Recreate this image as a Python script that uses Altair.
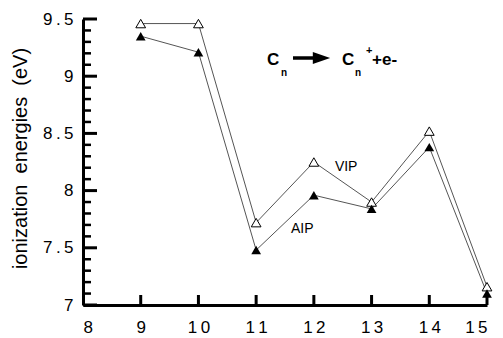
import altair as alt
import pandas as pd

# Carbon cluster size n and ionization energies (eV)
n_atoms = [9, 10, 11, 12, 13, 14, 15]
vip = [9.46, 9.46, 7.72, 8.25, 7.90, 8.52, 7.16]   # vertical ionization potential
aip = [9.35, 9.21, 7.48, 7.96, 7.84, 8.38, 7.10]   # adiabatic ionization potential

x_ticks = [8, 9, 10, 11, 12, 13, 14, 15]
y_major = [7.0, 7.5, 8.0, 8.5, 9.0, 9.5]
y_minor = [7.1, 7.2, 7.3, 7.4, 7.6, 7.7, 7.8, 7.9, 8.1, 8.2, 8.3, 8.4,
           8.6, 8.7, 8.8, 8.9, 9.1, 9.2, 9.3, 9.4]

W, H = 404, 286
FONT = "Liberation Sans"
# tick labels are set loosely, with a thin space between characters
SPACED = "join(split(format(datum.value, '~g'), ''), '\u2009')"
# double non-breaking spaces so the gaps survive SVG whitespace collapsing
Y_TITLE = "ionization\u00a0\u00a0energies\u00a0\u00a0(eV)"

df = pd.DataFrame({"n": n_atoms * 2,
                   "ie": vip + aip,
                   "kind": ["VIP"] * len(vip) + ["AIP"] * len(aip)})

xs = alt.Scale(domain=[8, 15], nice=False, zero=False)
ys = alt.Scale(domain=[7, 9.5], nice=False, zero=False)

x_axis = alt.Axis(values=x_ticks, ticks=False, grid=False, domainWidth=3,
                  domainColor="black", labelFont=FONT, labelFontSize=17,
                  labelColor="black", labelPadding=14, labelExpr=SPACED,
                  title=None)
y_axis = alt.Axis(values=y_major, ticks=False, grid=False, domainWidth=3,
                  domainColor="black", labelFont=FONT, labelFontSize=17,
                  labelColor="black", labelPadding=10, labelExpr=SPACED,
                  title=Y_TITLE, titleFont=FONT,
                  titleFontSize=20, titleFontWeight="normal", titleColor="black",
                  titleAngle=270, titleX=-63, titleY=139,
                  titleAlign="center", titleBaseline="middle")

base = alt.Chart(df)

lines = base.mark_line(color="#555555", strokeWidth=1).encode(
    x=alt.X("n:Q", scale=xs, axis=x_axis),
    y=alt.Y("ie:Q", scale=ys, axis=y_axis),
    detail="kind:N",
)

vip_pts = alt.Chart(df[df.kind == "VIP"]).mark_point(
    shape="triangle-up", size=95, filled=True, fill="white",
    stroke="black", strokeWidth=1, opacity=1
).encode(x=alt.X("n:Q", scale=xs), y=alt.Y("ie:Q", scale=ys))

aip_pts = alt.Chart(df[df.kind == "AIP"]).mark_point(
    shape="triangle-up", size=95, filled=True, color="black", opacity=1
).encode(x=alt.X("n:Q", scale=xs), y=alt.Y("ie:Q", scale=ys))

# inward tick marks
ymaj = alt.Chart(pd.DataFrame({"v": y_major})).mark_rule(
    color="black", strokeWidth=3).encode(
    y=alt.Y("v:Q", scale=ys), x=alt.value(0), x2=alt.value(14))
ymin = alt.Chart(pd.DataFrame({"v": y_minor})).mark_rule(
    color="black", strokeWidth=2.5).encode(
    y=alt.Y("v:Q", scale=ys), x=alt.value(0), x2=alt.value(8))
xmaj = alt.Chart(pd.DataFrame({"v": x_ticks[1:]})).mark_rule(
    color="black", strokeWidth=3).encode(
    x=alt.X("v:Q", scale=xs), y=alt.value(H), y2=alt.value(H - 10))

# series labels
lab = alt.Chart(pd.DataFrame({"n": [12.56, 11.80], "ie": [8.206, 7.664],
                              "t": ["VIP", "AIP"]})).mark_text(
    font=FONT, fontSize=14, color="black", align="center", baseline="middle"
).encode(x=alt.X("n:Q", scale=xs), y=alt.Y("ie:Q", scale=ys), text="t:N")

# reaction: C_n -> C_n^+ + e-
eq = pd.DataFrame({
    "t": ["C", "n", "C", "n", "+", "+e-"],
    "px": [184, 198, 259, 272, 283, 289],
    "py": [46, 57, 46, 57, 35, 46],
    "fs": [17, 10, 17, 10, 11, 17],
})
eq_text = alt.Chart(eq).mark_text(
    font=FONT, fontWeight="bold", color="black", align="left", baseline="alphabetic"
).encode(
    x=alt.X("px:Q", scale=None), y=alt.Y("py:Q", scale=None),
    text="t:N", size=alt.Size("fs:Q", scale=None, legend=None),
)
shaft = alt.Chart(pd.DataFrame({"a": [0]})).mark_rule(
    color="black", strokeWidth=3.5).encode(
    x=alt.value(210), x2=alt.value(233), y=alt.value(39))
head = alt.Chart(pd.DataFrame({"a": [0]})).mark_point(
    shape="M-1,-0.7L1,0L-1,0.7Z", size=300, filled=True, color="black", opacity=1
).encode(x=alt.value(238.5), y=alt.value(39))

chart = alt.layer(
    lines, vip_pts, aip_pts, ymaj, ymin, xmaj, lab, eq_text, shaft, head
).properties(
    width=W, height=H,
    autosize=alt.AutoSizeParams(type="none"),
    padding={"left": 83, "top": 19, "right": 16, "bottom": 33},
    background="white",
).configure_view(stroke=None)

chart.save("out.html", embed_options={"renderer": "svg", "actions": False})
